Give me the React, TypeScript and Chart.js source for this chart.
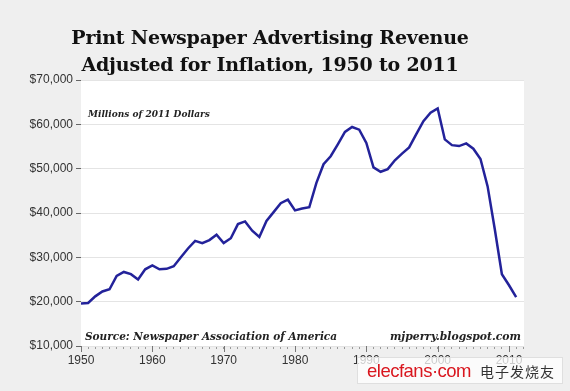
import React, { useEffect, useRef } from "react";
import { Chart, registerables } from "chart.js";

Chart.register(...registerables);

const startYear = 1950;
const revenue = [
  19600, 19700, 21200, 22300, 22800, 25800, 26700, 26200, 25000, 27300,
  28200, 27300, 27400, 28000, 30000, 32000, 33700, 33200, 33900, 35100,
  33200, 34300, 37500, 38100, 36000, 34600, 38200, 40200, 42200, 43000,
  40600, 41000, 41300, 46800, 51000, 52800, 55500, 58300, 59400, 58800,
  55800, 50300, 49300, 49900, 51900, 53400, 54800, 57800, 60700, 62600,
  63600, 56600, 55300, 55100, 55700, 54500, 52200, 46000, 36400, 26200,
  23700, 21000,
];
const years = revenue.map((_, i) => startYear + i);
const yTicks = [10000, 20000, 30000, 40000, 50000, 60000, 70000];
const xMajor = [1950, 1960, 1970, 1980, 1990, 2000, 2010];

const titleLines = [
  "Print Newspaper Advertising Revenue",
  "Adjusted for Inflation, 1950 to 2011",
];
const unitNote = "Millions of 2011 Dollars";
const sourceNote = "Source: Newspaper Association of America";
const siteNote = "mjperry.blogspot.com";

export default function App() {
  const ref = useRef<HTMLCanvasElement>(null);

  useEffect(() => {
    document.body.style.margin = "0";
    const canvas = ref.current!;
    const plotBg = {
      id: "plotBg",
      beforeDraw(chart: any) {
        const { ctx, chartArea } = chart;
        ctx.save();
        ctx.fillStyle = "#ffffff";
        ctx.fillRect(chartArea.left, chartArea.top, chartArea.right - chartArea.left, chartArea.bottom - chartArea.top);
        ctx.restore();
      },
      afterDraw(chart: any) {
        const { ctx, chartArea } = chart;
        const xs = chart.scales.x;
        ctx.save();
        ctx.strokeStyle = "#777";
        ctx.lineWidth = 1;
        xMajor.forEach((v) => {
          const px = Math.round(xs.getPixelForValue(v)) + 0.5;
          ctx.beginPath();
          ctx.moveTo(px, chartArea.bottom);
          ctx.lineTo(px, chartArea.bottom + 6);
          ctx.stroke();
        });
        ctx.fillStyle = "#222";
        ctx.textBaseline = "middle";
        ctx.textAlign = "left";
        ctx.font = "bold italic 9px 'DejaVu Serif'";
        ctx.fillText(unitNote, chartArea.left + 7, 115);
        ctx.font = "bold italic 10.5px 'DejaVu Serif'";
        ctx.fillText(sourceNote, chartArea.left + 4, 337);
        ctx.font = "bold italic 10.8px 'DejaVu Serif'";
        ctx.textAlign = "right";
        ctx.fillText(siteNote, chartArea.right - 3, 337);
        ctx.restore();
      },
    };

    const chart = new Chart(canvas, {
      type: "line",
      data: {
        datasets: [
          {
            data: years.map((y, i) => ({ x: y, y: revenue[i] })),
            borderColor: "#23229a",
            borderWidth: 2.5,
            pointRadius: 0,
            tension: 0,
            fill: false,
          },
        ],
      },
      options: {
        responsive: false,
        animation: false,
        layout: { padding: { top: 80, right: 46, left: 0, bottom: 0 } },
        plugins: { legend: { display: false }, tooltip: { enabled: false }, title: { display: false } },
        scales: {
          x: {
            type: "linear",
            min: 1950,
            max: 2012.1,
            afterBuildTicks: (scale: any) => {
              scale.ticks = years.concat([2012]).map((v) => ({ value: v }));
            },
            afterFit: (scale: any) => {
              scale.height = 45;
            },
            ticks: {
              autoSkip: false,
              maxRotation: 0,
              padding: 4,
              color: "#333",
              font: { family: "'Liberation Sans', Arial", size: 12 },
              callback: (v: any) => (xMajor.includes(Number(v)) ? String(v) : ""),
            },
            grid: { drawOnChartArea: false, drawTicks: true, tickLength: 3, tickColor: "#999" },
            border: { display: false },
          },
          y: {
            min: 10000,
            max: 70000,
            afterBuildTicks: (scale: any) => {
              scale.ticks = yTicks.map((v) => ({ value: v }));
            },
            afterFit: (scale: any) => {
              scale.width = 81;
            },
            ticks: {
              padding: 3,
              color: "#333",
              font: { family: "'Liberation Sans', Arial", size: 12 },
              callback: (v: any) => "$" + Number(v).toLocaleString("en-US"),
            },
            grid: { color: "#e4e4e4", lineWidth: 1, tickLength: 5, tickColor: "#666" },
            border: { display: false },
          },
        },
      },
      plugins: [plotBg],
    });
    return () => chart.destroy();
  }, []);

  return (
    <div style={{ position: "fixed", left: 0, top: 0, width: 570, height: 391, background: "#efefef", overflow: "hidden" }}>
      <canvas ref={ref} width={570} height={391} style={{ position: "absolute", left: 0, top: 0 }} />
      <div
        style={{
          position: "absolute",
          left: 0,
          width: 540,
          top: 24,
          textAlign: "center",
          fontFamily: "'DejaVu Serif', serif",
          fontWeight: "bold",
          fontSize: 19,
          letterSpacing: -0.2,
          lineHeight: "27px",
          color: "#111",
        }}
      >
        {titleLines.map((t) => (
          <div key={t}>{t}</div>
        ))}
      </div>
      <div
        style={{
          position: "absolute",
          left: 357,
          top: 357,
          width: 206,
          height: 27,
          background: "rgba(255,255,255,0.75)",
          border: "1px solid rgba(220,220,220,0.9)",
          boxSizing: "border-box",
          display: "flex",
          alignItems: "center",
        }}
      >
        <span style={{ marginLeft: 9, color: "#d9161e", fontFamily: "'Liberation Sans', Arial", fontSize: 18.5, letterSpacing: -0.5 }}>
          elecfans·com
        </span>
        <span style={{ marginLeft: 9, color: "#333", fontFamily: "'Noto Sans CJK SC'", fontSize: 14, letterSpacing: 1 }}>
          电子发烧友
        </span>
      </div>
    </div>
  );
}
